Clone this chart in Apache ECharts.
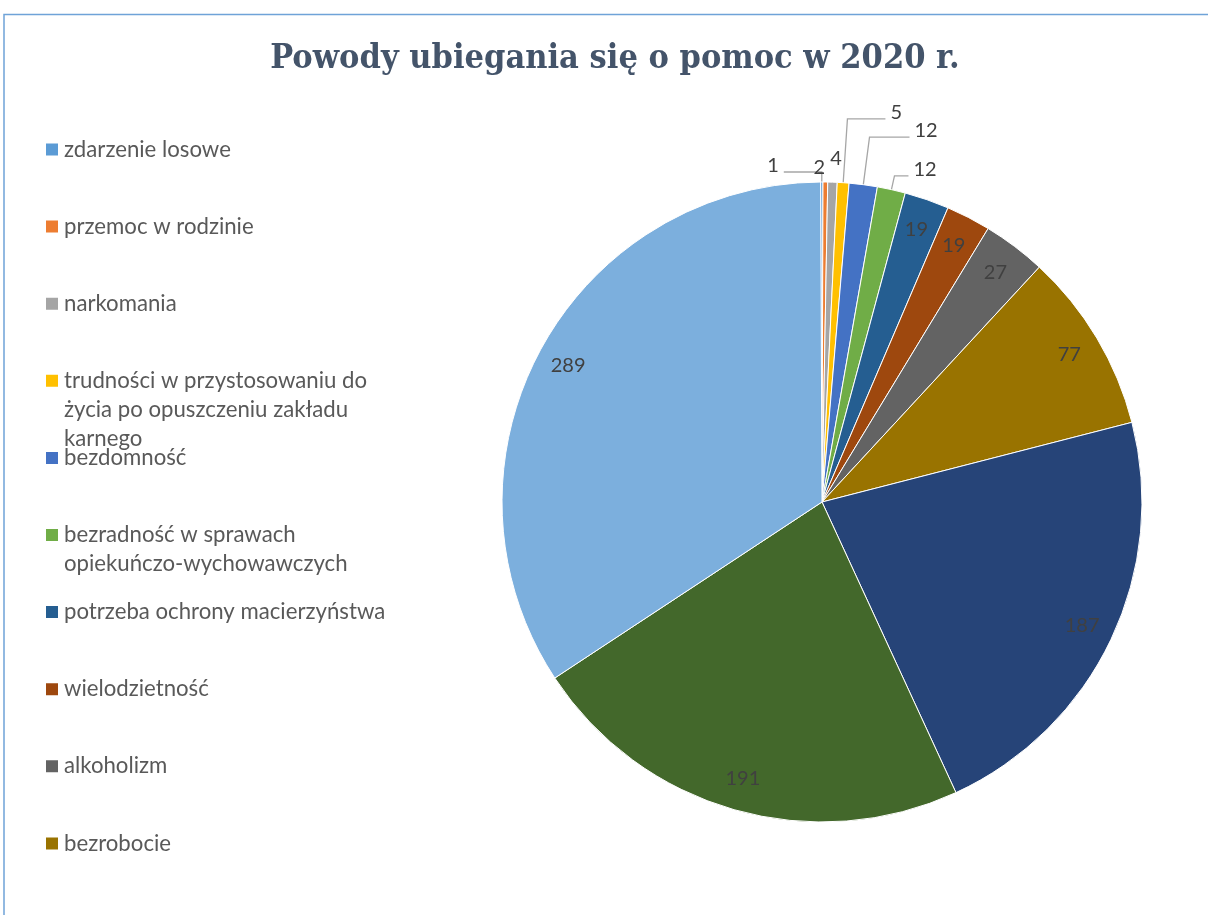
<!DOCTYPE html>
<html><head><meta charset="utf-8">
<script src="https://cdn.jsdelivr.net/npm/echarts@6/dist/echarts.min.js"></script>
<style>html,body{margin:0;padding:0;background:#fff}#c{width:1208px;height:915px}</style>
</head><body><div id="c"></div>
<script>
const titleText = 'Powody ubiegania się o pomoc w 2020 r.';
const categories = [
  'zdarzenie losowe',
  'przemoc w rodzinie',
  'narkomania',
  'trudności w przystosowaniu do życia po opuszczeniu zakładu karnego',
  'bezdomność',
  'bezradność w sprawach opiekuńczo-wychowawczych',
  'potrzeba ochrony macierzyństwa',
  'wielodzietność',
  'alkoholizm',
  'bezrobocie',
  'niepełnosprawność',
  'długotrwała lub ciężka choroba',
  'ubóstwo'
];
const values = [1, 2, 4, 5, 12, 12, 19, 19, 27, 77, 187, 191, 289];
const colors = ['#5B9BD5','#ED7D31','#A5A5A5','#FFC000','#4472C4','#70AD47','#255E91','#9E480E','#636363','#997300','#264478','#43682B','#7CAFDD'];
// outside-label styling for the small slices (leader line shown / lengths)
const outsideLabel = [true, true, true, true, true, true, false, false, false, false, false, false, false];
const showLeader   = [true, false, false, true, true, true, false, false, false, false, false, false, false];
const leaderLen    = [10, 14, 24, 64, 48, 14, 0, 0, 0, 0, 0, 0, 0];
const leaderLen2   = [38, 0, 0, 38, 40, 14, 0, 0, 0, 0, 0, 0, 0];
const labelGap     = [5, -12, -3, 5, 5, 5, 5, 5, 5, 5, 5, 5, 5];
const legendCount = 10;
const legendWrapped = {
  'trudności w przystosowaniu do życia po opuszczeniu zakładu karnego': ['trudności w przystosowaniu do', 'życia po opuszczeniu zakładu', 'karnego'],
  'bezradność w sprawach opiekuńczo-wychowawczych': ['bezradność w sprawach', 'opiekuńczo-wychowawczych']
};

const LH = 29;
const legendFirstY = 149.5, legendStep = 77.1;
const legends = [];
for (let i = 0; i < legendCount; i++) {
  const name = categories[i];
  const lines = legendWrapped[name] || [name];
  const n = lines.length;
  const text = '\n'.repeat(n - 1) + lines.join('\n');
  const h = (2 * n - 1) * LH;
  legends.push({
    data: [name],
    orient: 'vertical',
    left: 44,
    top: legendFirstY + i * legendStep - h / 2,
    padding: 0,
    itemWidth: 14,
    itemHeight: 14,
    icon: 'rect',
    selectedMode: false,
    formatter: () => text,
    textStyle: { fontFamily: 'Lato', fontSize: 22.2, color: '#595959', lineHeight: LH }
  });
}

const baseData = categories.map((c, i) => ({
  name: c,
  value: values[i],
  itemStyle: { color: colors[i] },
  label: { show: outsideLabel[i], distanceToLabelLine: labelGap[i], lineHeight: showLeader[i] ? 13 : 22 },
  labelLine: { show: showLeader[i], length: leaderLen[i], length2: leaderLen2[i] }
}));
const innerData = categories.map((c, i) => ({
  name: c,
  value: values[i],
  label: { show: !outsideLabel[i] }
}));

const chart = echarts.init(document.getElementById('c'), null, { renderer: 'canvas' });
chart.setOption({
  animation: false,
  color: colors,
  title: {
    text: titleText,
    left: 615,
    textAlign: 'center',
    top: 42,
    padding: 0,
    textStyle: { fontFamily: 'DejaVu Serif Condensed', fontWeight: 'bold', fontSize: 34, color: '#44546A' }
  },
  legend: legends,
  graphic: [{
    type: 'rect',
    shape: { x: 4, y: 14.5, width: 1400, height: 1000 },
    style: { fill: 'none', stroke: '#6FA3D8', lineWidth: 1.5 },
    silent: true
  }],
  series: [
    {
      type: 'pie',
      center: [822, 502],
      radius: 320,
      startAngle: 90.25,
      clockwise: true,
      avoidLabelOverlap: false,
      silent: true,
      itemStyle: { borderColor: '#fff', borderWidth: 1 },
      label: {
        position: 'outside', fontFamily: 'Lato', fontSize: 20, color: '#404040',
        formatter: p => showLeader[p.dataIndex] ? p.value + '\n' : String(p.value)
      },
      labelLine: { lineStyle: { color: '#A6A6A6', width: 1.3 } },
      emphasis: { disabled: true },
      data: baseData
    },
    {
      type: 'pie',
      center: [822, 502],
      radius: [250, 320],
      startAngle: 90.25,
      clockwise: true,
      silent: true,
      itemStyle: { color: 'rgba(0,0,0,0)', borderWidth: 0 },
      label: { position: 'inside', fontFamily: 'Lato', fontSize: 20, color: '#404040', formatter: '{c}' },
      labelLine: { show: false },
      emphasis: { disabled: true },
      data: innerData
    }
  ]
});
</script></body></html>
